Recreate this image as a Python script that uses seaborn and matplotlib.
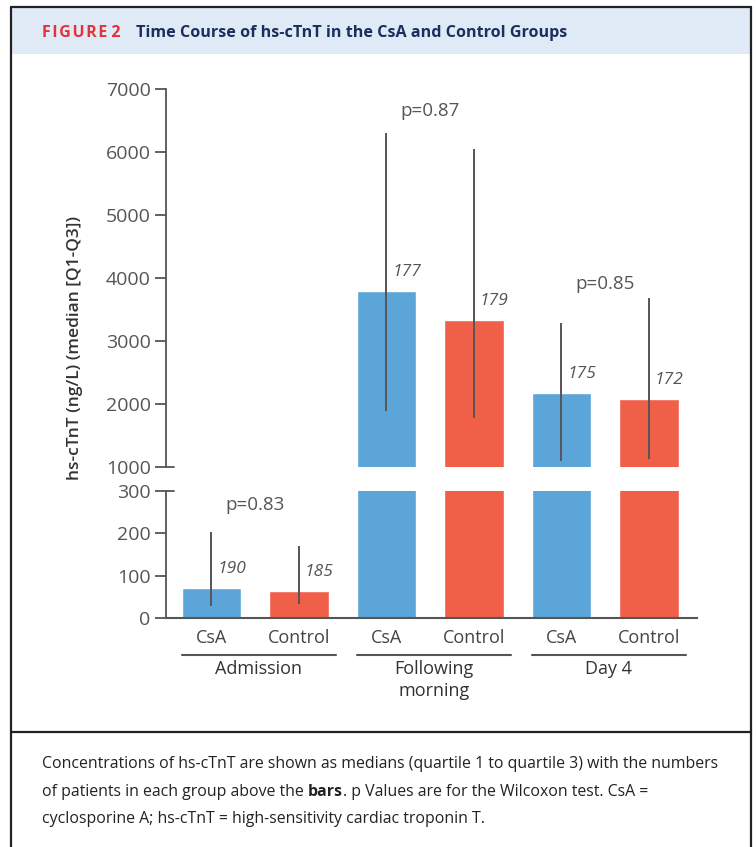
import numpy as np
import pandas as pd
import matplotlib
matplotlib.use("Agg")
import matplotlib.pyplot as plt
import matplotlib.transforms as mtransforms
from matplotlib.patches import Rectangle
from matplotlib.lines import Line2D
import seaborn as sns

# dane
groups = ["Admission", "Following\nmorning", "Day 4"]
treatments = ["CsA", "Control", "CsA", "Control", "CsA", "Control"]
medians = [71, 64, 3800, 3330, 2175, 2080]
q1 = [29, 32, 1890, 1770, 1100, 1130]
q3 = [203, 169, 6300, 6040, 3280, 3680]
n_patients = ["190", "185", "177", "179", "175", "172"]
p_values = ["p=0.83", "p=0.87", "p=0.85"]
p_heights = [268, 6650, 3900]
top_ticks = [1000, 2000, 3000, 4000, 5000, 6000, 7000]
bot_ticks = [0, 100, 200, 300]

BLUE = "#5ba5d9"
RED = "#f05f48"
GREY = "#555555"
W, H = 756, 847

sns.set_theme(style="white")
plt.rcParams["font.family"] = ["Open Sans", "DejaVu Sans"]

df = pd.DataFrame({
    "slot": np.arange(len(medians)),
    "median": medians,
    "treatment": treatments,
})

fig = plt.figure(figsize=(W / 100, H / 100), dpi=100)


def px_box(x0, y0, x1, y1):
    return [x0 / W, 1 - y1 / H, (x1 - x0) / W, (y1 - y0) / H]


ax_top = fig.add_axes(px_box(166, 89, 697, 467))
ax_bot = fig.add_axes(px_box(166, 491, 697, 618))

for ax, lo, hi, ticks in [(ax_top, 1000, 7000, top_ticks), (ax_bot, 0, 300, bot_ticks)]:
    sns.barplot(data=df, x="slot", y="median", hue="treatment",
                palette={"CsA": BLUE, "Control": RED}, dodge=False,
                width=0.68, errorbar=None, legend=False, ax=ax,
                saturation=1)
    ax.vlines(df["slot"], q1, q3, color=GREY, lw=1.4, zorder=3)
    ax.set_ylim(lo, hi)
    ax.set_xlim(-0.52, 5.55)
    ax.set_yticks(ticks)
    ax.set_yticklabels([str(t) for t in ticks])
    ax.set_xlabel("")
    ax.set_ylabel("")
    for s in ["top", "right"]:
        ax.spines[s].set_visible(False)
    ax.spines["left"].set_color(GREY)
    ax.spines["left"].set_linewidth(1.3)
    ax.tick_params(axis="y", left=True, length=8, width=1.3, color=GREY,
                   labelsize=14, labelcolor=GREY, pad=3)
    # znacznik przerwy osi (kreska po obu stronach)
    ax.plot([0, 0.016], [hi if ax is ax_bot else lo] * 2, color=GREY, lw=1.3,
            transform=mtransforms.blended_transform_factory(ax.transAxes, ax.transData),
            clip_on=False)

ax_top.spines["bottom"].set_visible(False)
ax_top.set_xticks([])
ax_bot.spines["bottom"].set_color(GREY)
ax_bot.spines["bottom"].set_linewidth(1.5)
ax_bot.set_xticks(df["slot"])
ax_bot.set_xticklabels(treatments)
ax_bot.tick_params(axis="x", bottom=False, labelsize=13, labelcolor="#444444", pad=2)

# liczby pacjentow nad slupkami
for i, (m, n) in enumerate(zip(medians, n_patients)):
    ax = ax_bot if m < 300 else ax_top
    ax.annotate(n, (i, m), xytext=(6, 19), textcoords="offset pixels",
                ha="left", va="center", fontsize=12.5, style="italic", color=GREY)

# wartosci p
for g, (p, h) in enumerate(zip(p_values, p_heights)):
    ax = ax_bot if h < 300 else ax_top
    ax.text(2 * g + 0.5, h, p, ha="center", va="center", fontsize=13.5, color=GREY)

# linie grup i podpisy grup
tr = mtransforms.blended_transform_factory(ax_bot.transData, fig.transFigure)
for g, name in enumerate(groups):
    x0, x1 = 2 * g - 0.34, 2 * g + 1.42
    ax_bot.plot([x0, x1], [1 - 655 / H] * 2, color=GREY, lw=1.5,
                transform=tr, clip_on=False)
    ax_bot.text((x0 + x1) / 2, 1 - 660 / H, name, transform=tr, ha="center",
                va="top", fontsize=13, fontweight="medium", color="#333333",
                linespacing=1.25)

fig.text(75 / W, 1 - 348 / H, "hs-cTnT (ng/L) (median [Q1-Q3])", rotation=90,
         ha="center", va="center", fontsize=12.5, fontweight="semibold", color="#333333")

# naglowek i ramka
fig.patches.append(Rectangle((11 / W, 1 - 54 / H), 740 / W, 46 / H,
                             transform=fig.transFigure, facecolor="#dfeaf6",
                             edgecolor="none", zorder=0))
for xs, ys in [([11, 11], [7, H]), ([751, 751], [7, H]),
               ([11, 751], [7, 7]), ([11, 751], [732, 732])]:
    fig.add_artist(Line2D([x / W for x in xs], [1 - y / H for y in ys],
                          color="#222222", lw=1.6))

fig.text(42 / W, 1 - 33 / H, "\u200a".join("FIGURE") + " 2", ha="left", va="center",
         fontsize=11.5, fontweight="bold", color="#e2333b")
fig.text(136 / W, 1 - 33 / H, "Time Course of hs-cTnT in the CsA and Control Groups",
         ha="left", va="center", fontsize=11.6, fontweight="bold", color="#1b2f5e")

# podpis pod rysunkiem
cap_kw = dict(fontsize=11.4, color="#222222", va="bottom", ha="left")
fig.text(42 / W, 1 - 772 / H,
         "Concentrations of hs-cTnT are shown as medians (quartile 1 to quartile 3) with the numbers",
         **cap_kw)
a = fig.text(42 / W, 1 - 800 / H, "of patients in each group above the ", **cap_kw)
b = fig.add_artist(plt.Annotation("bars", xy=(1, 0), xycoords=a, fontweight="bold", **cap_kw))
fig.add_artist(plt.Annotation(". p Values are for the Wilcoxon test. CsA =", xy=(1, 0),
                              xycoords=b, **cap_kw))
fig.text(42 / W, 1 - 827 / H,
         "cyclosporine A; hs-cTnT = high-sensitivity cardiac troponin T.", **cap_kw)

fig.savefig("out.png", dpi=100)
plt.close(fig)
